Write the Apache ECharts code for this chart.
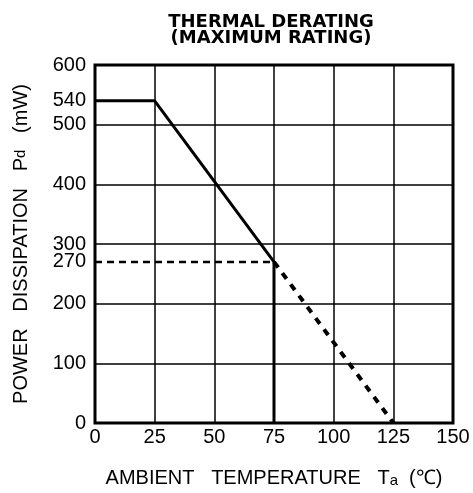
<!DOCTYPE html>
<html>
<head>
<meta charset="utf-8">
<script src="https://cdn.jsdelivr.net/npm/echarts@6/dist/echarts.min.js"></script>
<style>html,body{margin:0;padding:0;background:#fff}#c{width:473px;height:493px}</style>
</head>
<body>
<div id="c"></div>
<script>
var xTicks = [0, 25, 50, 75, 100, 125, 150];
var yLabelValues = [0, 100, 200, 270, 300, 400, 500, 540, 600];
var ratedCurve = [[0, 540], [25, 540], [75, 270], [75, 0]];
var limitLine = [[0, 270], [75, 270]];
var derateExtension = [[75, 270], [125, 0]];

var chart = echarts.init(document.getElementById('c'));
var F = 'Liberation Sans, Arial, sans-serif';
chart.setOption({
  animation: false,
  backgroundColor: '#fff',
  title: {
    text: 'THERMAL DERATING\n(MAXIMUM RATING)',
    left: 266, top: 9, textAlign: 'center',
    textStyle: { fontFamily: 'DejaVu Sans', fontWeight: 'bold', fontSize: 18, lineHeight: 16, color: '#000' }
  },
  grid: { left: 95, right: 20, top: 65, bottom: 70, outerBoundsMode: 'none', containLabel: false, show: true, borderColor: '#000', borderWidth: 3, backgroundColor: 'transparent' },
  xAxis: {
    type: 'value', min: 0, max: 150, interval: 25,
    name: '{t|AMBIENT   TEMPERATURE   T}{s|a}{t|  (℃)}',
    nameLocation: 'middle', nameGap: 45,
    nameTextStyle: { rich: { t: { fontFamily: F, fontSize: 20, color: '#000' }, s: { fontFamily: F, fontSize: 15, color: '#000', verticalAlign: 'bottom' } } },
    axisLine: { show: false }, axisTick: { show: false },
    axisLabel: { margin: 4, fontFamily: F, fontSize: 20, color: '#000',
      customValues: xTicks },
    splitLine: { show: true, lineStyle: { color: '#000', width: 1.5 } }
  },
  yAxis: {
    type: 'value', min: 0, max: 600, interval: 100,
    name: '{t|POWER   DISSIPATION   P}{s|d}{t|   (mW)}',
    nameLocation: 'middle', nameGap: 64, nameRotate: 90,
    nameTextStyle: { rich: { t: { fontFamily: F, fontSize: 20, color: '#000' }, s: { fontFamily: F, fontSize: 15, color: '#000' } } },
    axisLine: { show: false }, axisTick: { show: false },
    axisLabel: { margin: 9, fontFamily: F, fontSize: 20, color: '#000', customValues: yLabelValues },
    splitLine: { show: true, lineStyle: { color: '#000', width: 1.5 } }
  },
  series: [
    { type: 'line', data: ratedCurve, symbol: 'none', lineStyle: { color: '#000', width: 3 }, z: 5 },
    { type: 'line', data: limitLine, symbol: 'none', lineStyle: { color: '#000', width: 2.5, type: [7, 5] }, z: 4 },
    { type: 'line', data: derateExtension, symbol: 'none', lineStyle: { color: '#000', width: 4, type: [7, 7] }, z: 4 }
  ]
});
</script>
</body>
</html>
